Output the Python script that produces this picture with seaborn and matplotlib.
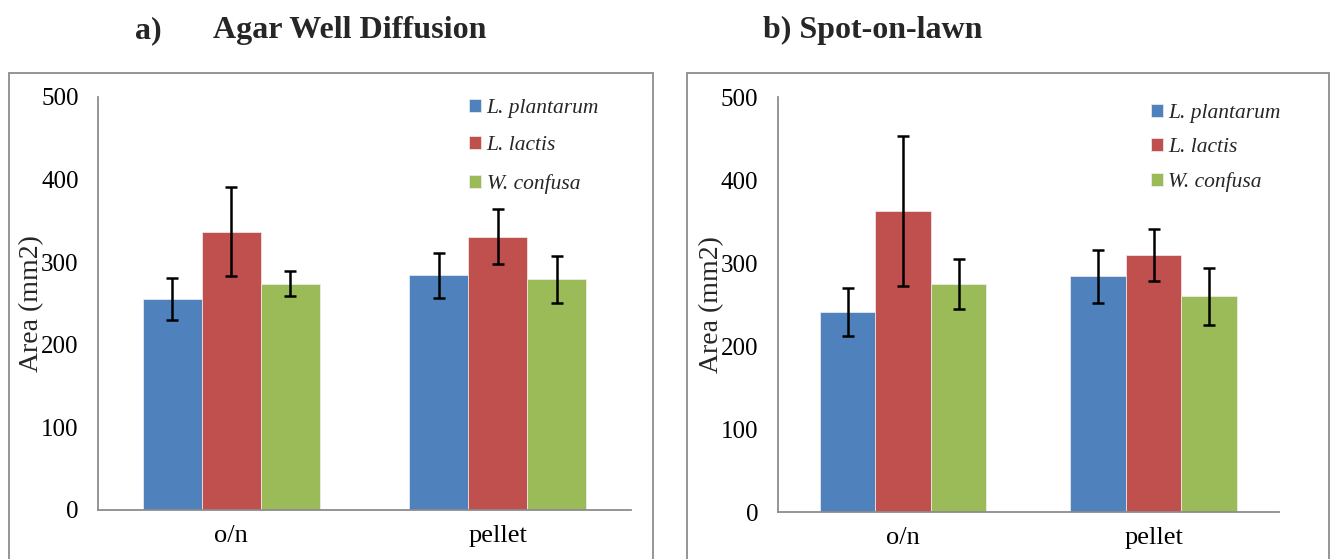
import matplotlib
matplotlib.use("Agg")
import matplotlib.pyplot as plt
import seaborn as sns
import pandas as pd
import numpy as np
from matplotlib.patches import Rectangle

categories = ["o/n", "pellet"]
strains = ["L. plantarum", "L. lactis", "W. confusa"]

# Panel a) Agar Well Diffusion: means and errors per strain (o/n, pellet)
a_plantarum = [255, 284]
a_lactis = [337, 331]
a_confusa = [274, 279]
a_plantarum_err = [25.5, 27]
a_lactis_err = [54, 33.5]
a_confusa_err = [15, 29]

# Panel b) Spot-on-lawn
b_plantarum = [241, 284]
b_lactis = [363, 310]
b_confusa = [275, 260]
b_plantarum_err = [29, 32]
b_lactis_err = [90, 31]
b_confusa_err = [30, 34]

colors = ["#4F81BD", "#C0504D", "#9BBB59"]

sns.set_theme(style="white")
plt.rcParams["font.family"] = ["Liberation Serif", "DejaVu Serif"]

fig = plt.figure(figsize=(13.32, 5.59), dpi=100)

def make_df(vals, errs):
    rows = []
    for s, v, e in zip(strains, vals, errs):
        for c, vv, ee in zip(categories, v, e):
            rows.append({"cat": c, "strain": s, "area": vv, "err": ee})
    return pd.DataFrame(rows)

panels = [
    ([0.0736, 0.0877, 0.400, 0.739],
     make_df([a_plantarum, a_lactis, a_confusa], [a_plantarum_err, a_lactis_err, a_confusa_err]),
     (0.697, 0.995), 0.0068, 0.4835, 0.85, -0.101),
    ([0.584, 0.084, 0.376, 0.742],
     make_df([b_plantarum, b_lactis, b_confusa], [b_plantarum_err, b_lactis_err, b_confusa_err]),
     (0.745, 0.984), 0.5158, 0.4819, 0.70, -0.108),
]

for pos, df, legpos, bx, bw, lsp, ylx in panels:
    fig.add_artist(Rectangle((bx, -0.1), bw, 0.1 + 0.8694, transform=fig.transFigure,
                             fill=False, edgecolor="#8c8c8c", linewidth=1.3))
    ax = fig.add_axes(pos)
    sns.barplot(data=df, x="cat", y="area", hue="strain", order=categories,
                hue_order=strains, palette=colors, errorbar=None, width=0.665,
                saturation=1, ax=ax, edgecolor="#f0f0f0", linewidth=0.5)
    # error bars at the bar positions produced by seaborn
    for container, s in zip(ax.containers, strains):
        sub = df[df["strain"] == s].set_index("cat").loc[categories]
        xs = [p.get_x() + p.get_width() / 2 for p in container.patches]
        hs = [p.get_height() for p in container.patches]
        ax.errorbar(xs, hs, yerr=sub["err"].values, fmt="none", ecolor="black",
                    elinewidth=1.8, capsize=4.5, capthick=1.8, zorder=5)
    ax.set_ylim(0, 500)
    ax.set_yticks([0, 100, 200, 300, 400, 500])
    ax.set_xlim(-0.5, 1.5)
    ax.set_xlabel("")
    ax.set_ylabel("Area (mm2)", fontsize=20)
    ax.yaxis.set_label_coords(ylx, 0.5)
    ax.tick_params(axis="both", length=0, colors="black")
    ax.tick_params(axis="x", pad=11, labelsize=19)
    ax.tick_params(axis="y", pad=14, labelsize=18)
    for sp in ["top", "right"]:
        ax.spines[sp].set_visible(False)
    for sp in ["left", "bottom"]:
        ax.spines[sp].set_color("#8c8c8c")
        ax.spines[sp].set_linewidth(1.3)
    leg = ax.legend(loc="upper left", bbox_to_anchor=legpos, frameon=False,
                    prop={"style": "italic", "size": 15.5}, handlelength=0.55,
                    handleheight=0.55, handletextpad=0.25, labelspacing=lsp,
                    borderaxespad=0, borderpad=0)

fig.text(0.101, 0.945, "a)", fontsize=23, fontweight="bold", ha="left", va="center")
fig.text(0.160, 0.945, "Agar Well Diffusion", fontsize=23, fontweight="bold", ha="left", va="center")
fig.text(0.573, 0.945, "b) Spot-on-lawn", fontsize=23, fontweight="bold", ha="left", va="center")

fig.savefig("out.png", dpi=100)
